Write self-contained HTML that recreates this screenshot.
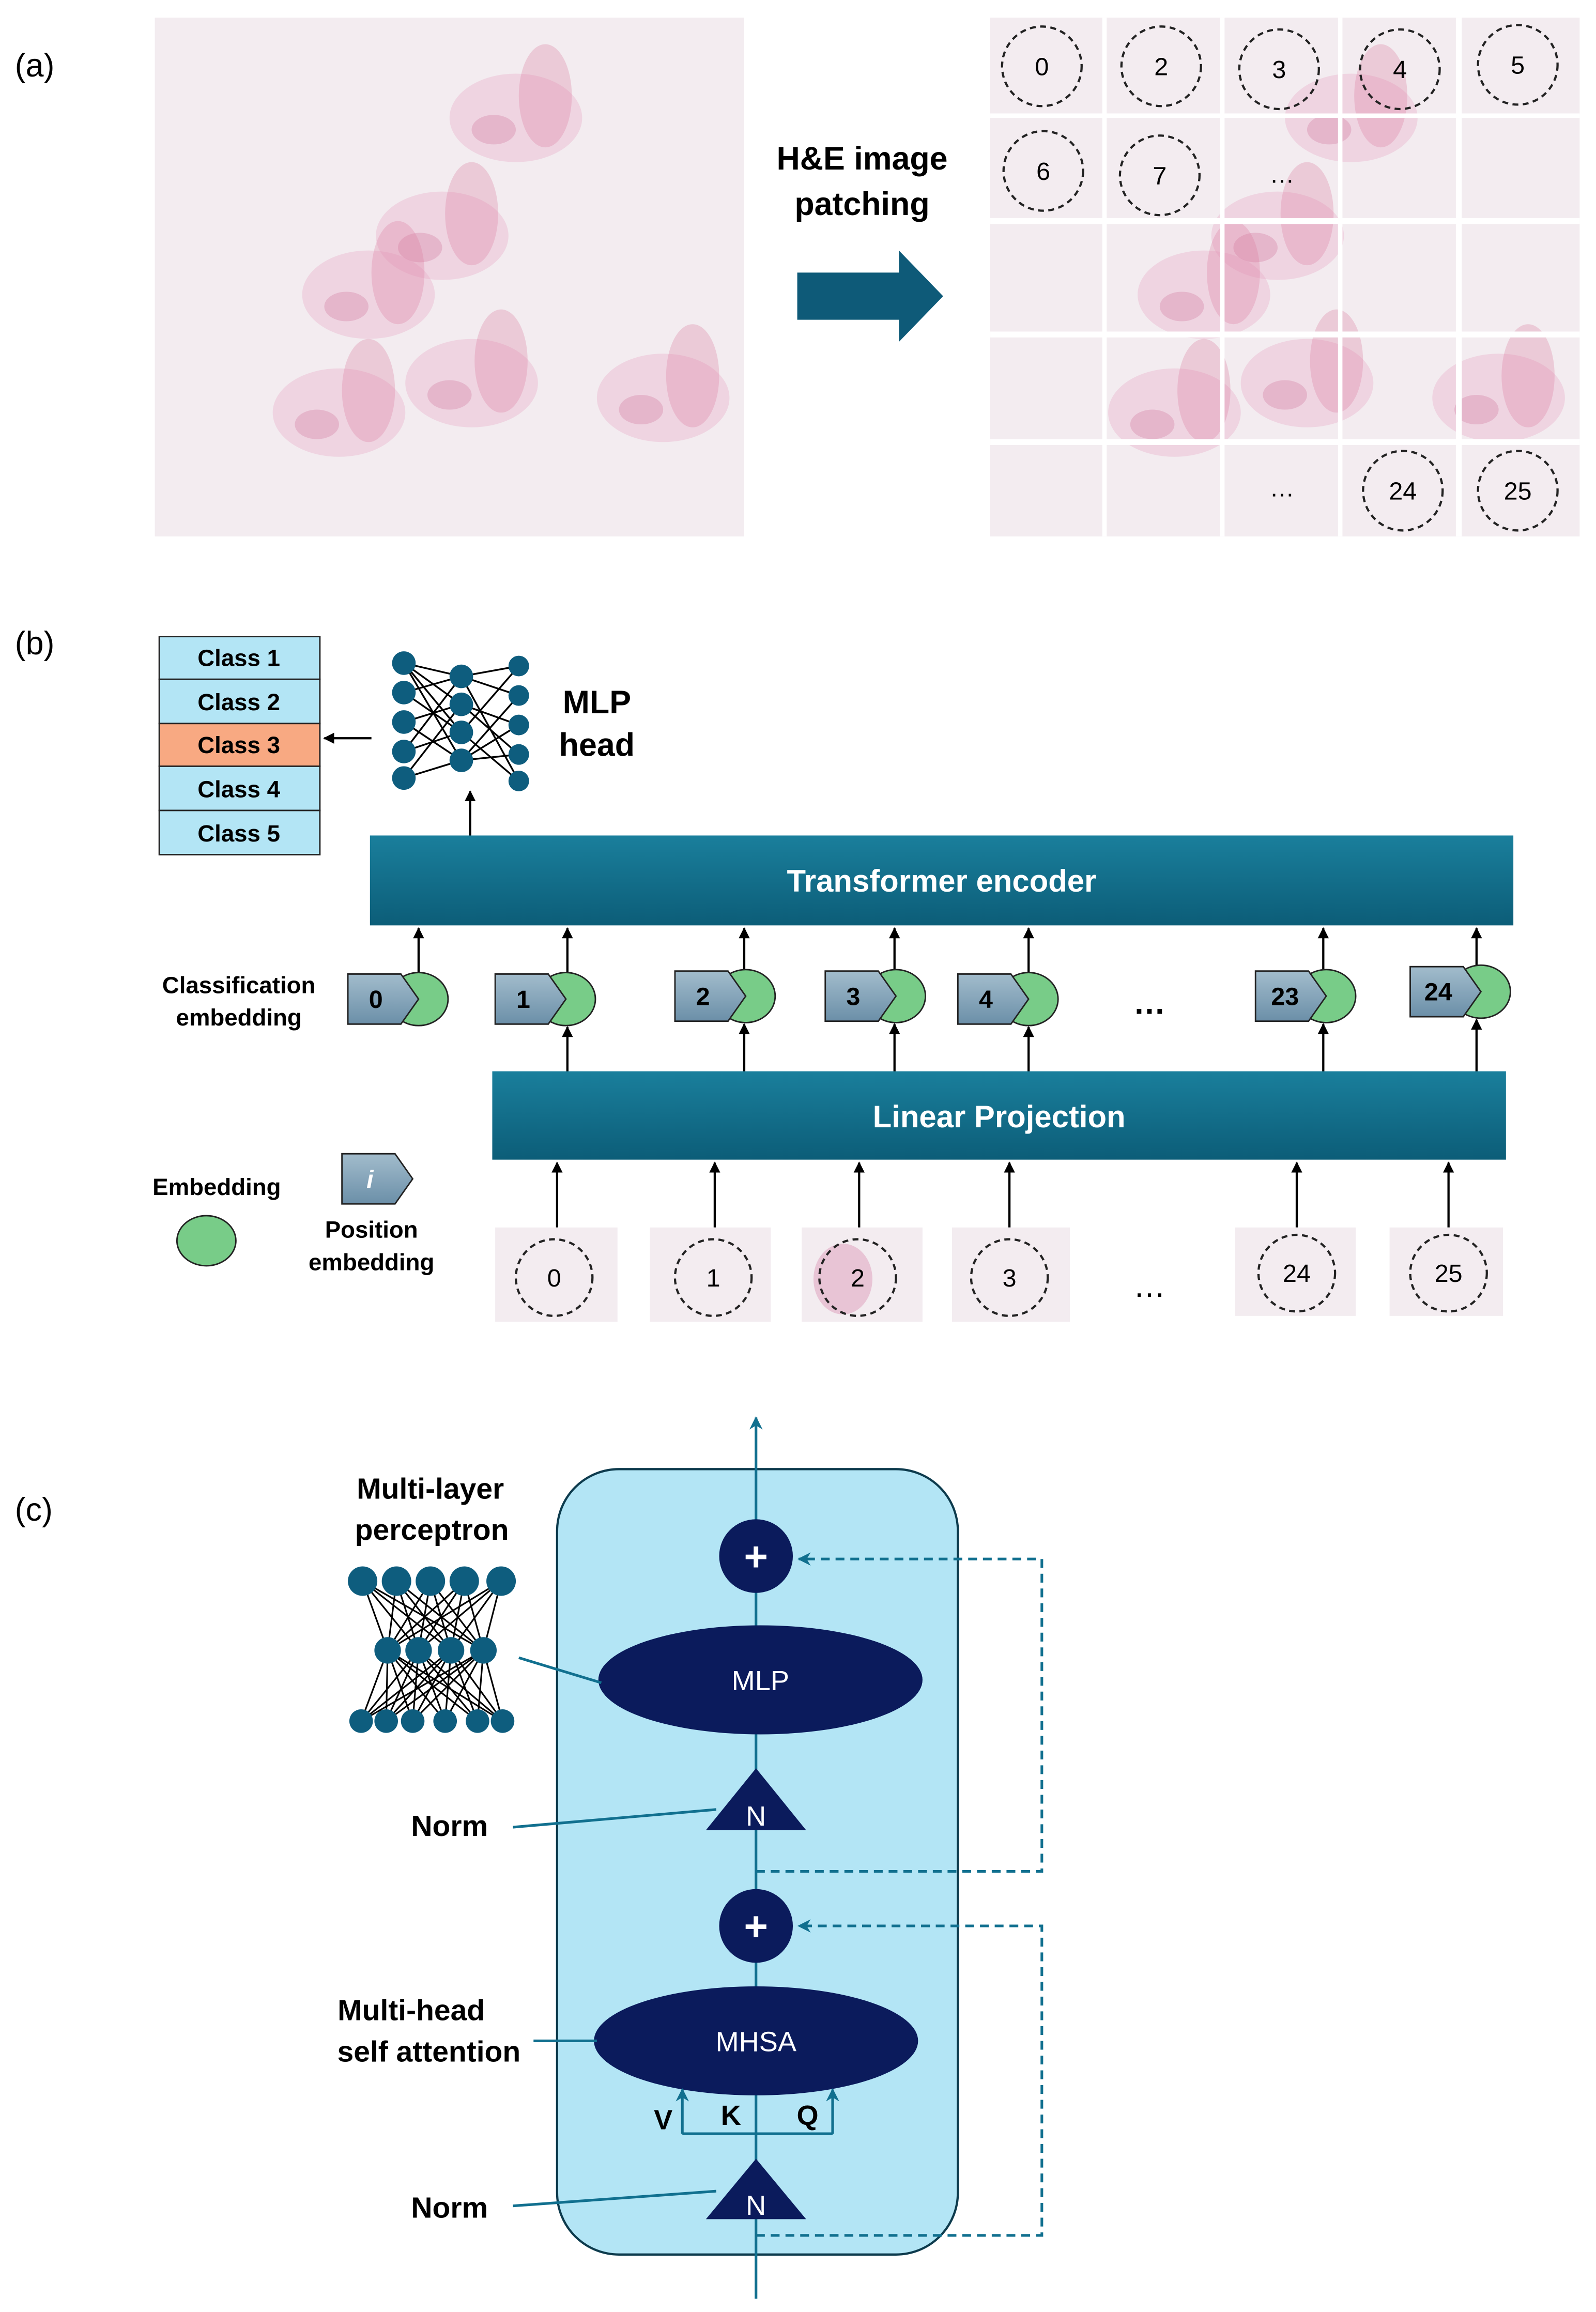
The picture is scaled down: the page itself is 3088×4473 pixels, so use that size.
<!DOCTYPE html>
<html><head><meta charset="utf-8"><style>html,body{margin:0;padding:0;background:#fff}svg{display:block}</style></head><body>
<svg xmlns="http://www.w3.org/2000/svg" width="3088" height="4473" viewBox="0 0 1083 1569" font-family="Liberation Sans, sans-serif">
<defs>
<marker id="ab" viewBox="0 0 10 10" refX="9" refY="5" markerWidth="5" markerHeight="5" orient="auto"><path d="M0,0L10,5L0,10z" fill="#000"/></marker>
<marker id="at" viewBox="0 0 10 10" refX="9" refY="5" markerWidth="5" markerHeight="5" orient="auto"><path d="M0,0L10,5L0,10L3,5z" fill="#11708f"/></marker>
<linearGradient id="bar" x1="0" y1="0" x2="0" y2="1"><stop offset="0" stop-color="#1a7f9c"/><stop offset="1" stop-color="#0c5d78"/></linearGradient>
<linearGradient id="pent" x1="0" y1="0" x2="0" y2="1"><stop offset="0" stop-color="#a2bccc"/><stop offset="1" stop-color="#6b8fa8"/></linearGradient>
<g id="tis"><ellipse cx="0" cy="0" rx="45" ry="30" fill="#e7a9c6" opacity="0.35"/><ellipse cx="20" cy="-15" rx="18" ry="35" fill="#d9799f" opacity="0.3"/><ellipse cx="-15" cy="8" rx="15" ry="10" fill="#c95c8a" opacity="0.25"/></g>
<g id="tok"><ellipse cx="48" cy="17" rx="20" ry="18" fill="#78cc88" stroke="#222" stroke-width="1"/><path d="M0,0H36L48,17L36,34H0z" fill="url(#pent)" stroke="#222" stroke-width="1"/></g>
</defs>
<!-- (a) -->
<text x="10" y="52" font-size="22">(a)</text>
<rect x="105" y="12" width="400" height="352" fill="#f3ecf0"/>
<use href="#tis" x="300" y="160"/><use href="#tis" x="250" y="200"/><use href="#tis" x="350" y="80"/><use href="#tis" x="230" y="280"/><use href="#tis" x="450" y="270"/><use href="#tis" x="320" y="260"/>
<text x="585" y="115" font-size="22" font-weight="bold" text-anchor="middle">H&amp;E image</text>
<text x="585" y="146" font-size="22" font-weight="bold" text-anchor="middle">patching</text>
<path d="M541,185H610V170L640,201L610,232V217H541z" fill="#0e5a78"/>
<rect x="672" y="12" width="400" height="352" fill="#f3ecf0"/>
<use href="#tis" x="867" y="160"/><use href="#tis" x="817" y="200"/><use href="#tis" x="917" y="80"/><use href="#tis" x="797" y="280"/><use href="#tis" x="1017" y="270"/><use href="#tis" x="887" y="260"/>
<g fill="#fff"><rect x="748" y="12" width="3" height="352"/><rect x="828" y="12" width="3" height="352"/><rect x="908" y="12" width="3" height="352"/><rect x="988" y="12" width="4" height="352"/>
<rect x="672" y="77" width="400" height="3"/><rect x="672" y="148" width="400" height="4"/><rect x="672" y="225" width="400" height="4"/><rect x="672" y="298" width="400" height="4"/></g>
<g fill="none" stroke="#222" stroke-width="1.5" stroke-dasharray="4,3">
<circle cx="707" cy="45" r="27"/><circle cx="788" cy="45" r="27"/><circle cx="868" cy="47" r="27"/><circle cx="950" cy="47" r="27"/><circle cx="1030" cy="44" r="27"/>
<circle cx="708" cy="116" r="27"/><circle cx="787" cy="119" r="27"/><circle cx="952" cy="333" r="27"/><circle cx="1030" cy="333" r="27"/></g>
<g font-size="17" text-anchor="middle"><text x="707" y="51">0</text><text x="788" y="51">2</text><text x="868" y="53">3</text><text x="950" y="53">4</text><text x="1030" y="50">5</text><text x="708" y="122">6</text><text x="787" y="125">7</text><text x="952" y="339">24</text><text x="1030" y="339">25</text><text x="870" y="124">…</text><text x="870" y="337">…</text></g>
<!-- (b) -->
<text x="10" y="444" font-size="22">(b)</text>
<g stroke="#222" stroke-width="1">
<rect x="108" y="432" width="109" height="29" fill="#b3e5f5"/><rect x="108" y="461" width="109" height="30" fill="#b3e5f5"/><rect x="108" y="491" width="109" height="29" fill="#f8a982"/><rect x="108" y="520" width="109" height="30" fill="#b3e5f5"/><rect x="108" y="550" width="109" height="30" fill="#b3e5f5"/></g>
<g font-size="16" font-weight="bold" text-anchor="middle"><text x="162" y="452">Class 1</text><text x="162" y="482">Class 2</text><text x="162" y="511">Class 3</text><text x="162" y="541">Class 4</text><text x="162" y="571">Class 5</text></g>
<line x1="252" y1="501" x2="220" y2="501" stroke="#000" stroke-width="1.5" marker-end="url(#ab)"/>
<g stroke="#000" stroke-width="1.2">
<path d="M274,450L313,459M274,450L313,478M274,450L313,497M274,450L313,516M274,470L313,459M274,470L313,497M274,490L313,478M274,490L313,516M274,510L313,459M274,510L313,497M274,528L313,478M274,528L313,516M313,459L352,452M313,459L352,472M313,478L352,492M313,478L352,512M313,497L352,452M313,497L352,530M313,516L352,472M313,516L352,512M313,459L352,530M313,516L352,492"/></g>
<g fill="#0e5d7e"><circle cx="274" cy="450" r="8"/><circle cx="274" cy="470" r="8"/><circle cx="274" cy="490" r="8"/><circle cx="274" cy="510" r="8"/><circle cx="274" cy="528" r="8"/>
<circle cx="313" cy="459" r="8"/><circle cx="313" cy="478" r="8"/><circle cx="313" cy="497" r="8"/><circle cx="313" cy="516" r="8"/>
<circle cx="352" cy="452" r="7"/><circle cx="352" cy="472" r="7"/><circle cx="352" cy="492" r="7"/><circle cx="352" cy="512" r="7"/><circle cx="352" cy="530" r="7"/></g>
<text x="405" y="484" font-size="22" font-weight="bold" text-anchor="middle">MLP</text>
<text x="405" y="513" font-size="22" font-weight="bold" text-anchor="middle">head</text>
<line x1="319" y1="567" x2="319" y2="537" stroke="#000" stroke-width="1.5" marker-end="url(#ab)"/>
<rect x="251" y="567" width="776" height="61" fill="url(#bar)"/>
<text x="639" y="605" font-size="21" font-weight="bold" fill="#fff" text-anchor="middle">Transformer encoder</text>
<rect x="334" y="727" width="688" height="60" fill="url(#bar)"/>
<text x="678" y="765" font-size="21" font-weight="bold" fill="#fff" text-anchor="middle">Linear Projection</text>
<g stroke="#000" stroke-width="1.5" marker-end="url(#ab)">
<line x1="284" y1="660" x2="284" y2="630"/><line x1="385" y1="660" x2="385" y2="630"/><line x1="505" y1="658" x2="505" y2="630"/><line x1="607" y1="658" x2="607" y2="630"/><line x1="698" y1="660" x2="698" y2="630"/><line x1="898" y1="658" x2="898" y2="630"/><line x1="1002" y1="656" x2="1002" y2="630"/>
<line x1="385" y1="727" x2="385" y2="697"/><line x1="505" y1="727" x2="505" y2="695"/><line x1="607" y1="727" x2="607" y2="695"/><line x1="698" y1="727" x2="698" y2="697"/><line x1="898" y1="727" x2="898" y2="695"/><line x1="1002" y1="727" x2="1002" y2="692"/>
<line x1="378" y1="833" x2="378" y2="789"/><line x1="485" y1="833" x2="485" y2="789"/><line x1="583" y1="833" x2="583" y2="789"/><line x1="685" y1="833" x2="685" y2="789"/><line x1="880" y1="833" x2="880" y2="789"/><line x1="983" y1="833" x2="983" y2="789"/></g>
<use href="#tok" x="236" y="661"/><use href="#tok" x="336" y="661"/><use href="#tok" x="458" y="659"/><use href="#tok" x="560" y="659"/><use href="#tok" x="650" y="661"/><use href="#tok" x="852" y="659"/><use href="#tok" x="957" y="656"/>
<g font-size="17" font-weight="bold" text-anchor="middle"><text x="255" y="684">0</text><text x="355" y="684">1</text><text x="477" y="682">2</text><text x="579" y="682">3</text><text x="669" y="684">4</text><text x="872" y="682">23</text><text x="976" y="679">24</text><text x="780" y="688" font-size="22">…</text></g>
<text x="162" y="674" font-size="16" font-weight="bold" text-anchor="middle">Classification</text>
<text x="162" y="696" font-size="16" font-weight="bold" text-anchor="middle">embedding</text>
<text x="147" y="811" font-size="16" font-weight="bold" text-anchor="middle">Embedding</text>
<ellipse cx="140" cy="842" rx="20" ry="17" fill="#78cc88" stroke="#222"/>
<path d="M232,783H268L280,800L268,817H232z" fill="url(#pent)" stroke="#222"/>
<text x="251" y="806" font-size="17" font-weight="bold" font-style="italic" fill="#fff" text-anchor="middle">i</text>
<text x="252" y="840" font-size="16" font-weight="bold" text-anchor="middle">Position</text>
<text x="252" y="862" font-size="16" font-weight="bold" text-anchor="middle">embedding</text>
<g fill="#f3ecf0"><rect x="336" y="833" width="83" height="64"/><rect x="441" y="833" width="82" height="64"/><rect x="544" y="833" width="82" height="64"/><rect x="646" y="833" width="80" height="64"/><rect x="838" y="833" width="82" height="60"/><rect x="943" y="833" width="77" height="60"/></g>
<ellipse cx="572" cy="868" rx="20" ry="24" fill="#d57ba2" opacity="0.35"/>
<g fill="none" stroke="#222" stroke-width="1.5" stroke-dasharray="4,3"><circle cx="376" cy="867" r="26"/><circle cx="484" cy="867" r="26"/><circle cx="582" cy="867" r="26"/><circle cx="685" cy="867" r="26"/><circle cx="880" cy="864" r="26"/><circle cx="983" cy="864" r="26"/></g>
<g font-size="17" text-anchor="middle"><text x="376" y="873">0</text><text x="484" y="873">1</text><text x="582" y="873">2</text><text x="685" y="873">3</text><text x="880" y="870">24</text><text x="983" y="870">25</text><text x="780" y="880" font-size="22">…</text></g>
<!-- (c) -->
<text x="10" y="1032" font-size="22">(c)</text>
<rect x="378" y="997" width="272" height="533" rx="42" fill="#b3e5f5" stroke="#0d3b4d" stroke-width="1.5"/>
<line x1="513" y1="1560" x2="513" y2="962" stroke="#11708f" stroke-width="1.8" marker-end="url(#at)"/>
<g fill="none" stroke="#11708f" stroke-width="1.8" stroke-dasharray="6,4">
<path d="M513,1270H707V1058H542" marker-end="url(#at)"/><path d="M513,1517H707V1307H542" marker-end="url(#at)"/></g>
<g fill="#0b1b5c"><circle cx="513" cy="1056" r="25"/><circle cx="513" cy="1307" r="25"/>
<ellipse cx="516" cy="1140" rx="110" ry="37"/><ellipse cx="513" cy="1385" rx="110" ry="37"/>
<path d="M513,1200L547,1242H479z"/><path d="M513,1465L547,1506H479z"/></g>
<g fill="#fff" text-anchor="middle"><text x="513" y="1066" font-size="28" font-weight="bold">+</text><text x="513" y="1317" font-size="28" font-weight="bold">+</text>
<text x="516" y="1147" font-size="19">MLP</text><text x="513" y="1392" font-size="19">MHSA</text><text x="513" y="1239" font-size="19">N</text><text x="513" y="1503" font-size="19">N</text></g>
<g fill="none" stroke="#11708f" stroke-width="1.8"><path d="M463,1448H565"/><line x1="463" y1="1448" x2="463" y2="1418" marker-end="url(#at)"/><line x1="565" y1="1448" x2="565" y2="1418" marker-end="url(#at)"/>
<line x1="352" y1="1125" x2="408" y2="1142"/><line x1="348" y1="1240" x2="486" y2="1228"/><line x1="362" y1="1385" x2="405" y2="1385"/><line x1="348" y1="1497" x2="486" y2="1487"/></g>
<g font-size="19" font-weight="bold" text-anchor="middle"><text x="450" y="1445">V</text><text x="496" y="1442">K</text><text x="548" y="1442">Q</text></g>
<g font-size="20" font-weight="bold" text-anchor="middle"><text x="292" y="1017">Multi-layer</text><text x="293" y="1045">perceptron</text><text x="305" y="1246">Norm</text><text x="279" y="1371">Multi-head</text><text x="291" y="1399">self attention</text><text x="305" y="1505">Norm</text></g>
<g stroke="#000" stroke-width="1.1">
<path d="M246,1073L263,1120M246,1073L284,1120M246,1073L306,1120M246,1073L328,1120M269,1073L263,1120M269,1073L284,1120M269,1073L306,1120M269,1073L328,1120M292,1073L263,1120M292,1073L284,1120M292,1073L306,1120M292,1073L328,1120M315,1073L263,1120M315,1073L284,1120M315,1073L306,1120M315,1073L328,1120M340,1073L263,1120M340,1073L284,1120M340,1073L306,1120M340,1073L328,1120
M263,1120L245,1168M263,1120L262,1168M263,1120L280,1168M263,1120L302,1168M263,1120L324,1168M263,1120L341,1168M284,1120L245,1168M284,1120L262,1168M284,1120L280,1168M284,1120L302,1168M284,1120L324,1168M284,1120L341,1168M306,1120L245,1168M306,1120L262,1168M306,1120L280,1168M306,1120L302,1168M306,1120L324,1168M306,1120L341,1168M328,1120L245,1168M328,1120L262,1168M328,1120L280,1168M328,1120L302,1168M328,1120L324,1168M328,1120L341,1168"/></g>
<g fill="#0e5d7e"><circle cx="246" cy="1073" r="10"/><circle cx="269" cy="1073" r="10"/><circle cx="292" cy="1073" r="10"/><circle cx="315" cy="1073" r="10"/><circle cx="340" cy="1073" r="10"/>
<circle cx="263" cy="1120" r="9"/><circle cx="284" cy="1120" r="9"/><circle cx="306" cy="1120" r="9"/><circle cx="328" cy="1120" r="9"/>
<circle cx="245" cy="1168" r="8"/><circle cx="262" cy="1168" r="8"/><circle cx="280" cy="1168" r="8"/><circle cx="302" cy="1168" r="8"/><circle cx="324" cy="1168" r="8"/><circle cx="341" cy="1168" r="8"/></g>
</svg>
</body></html>
